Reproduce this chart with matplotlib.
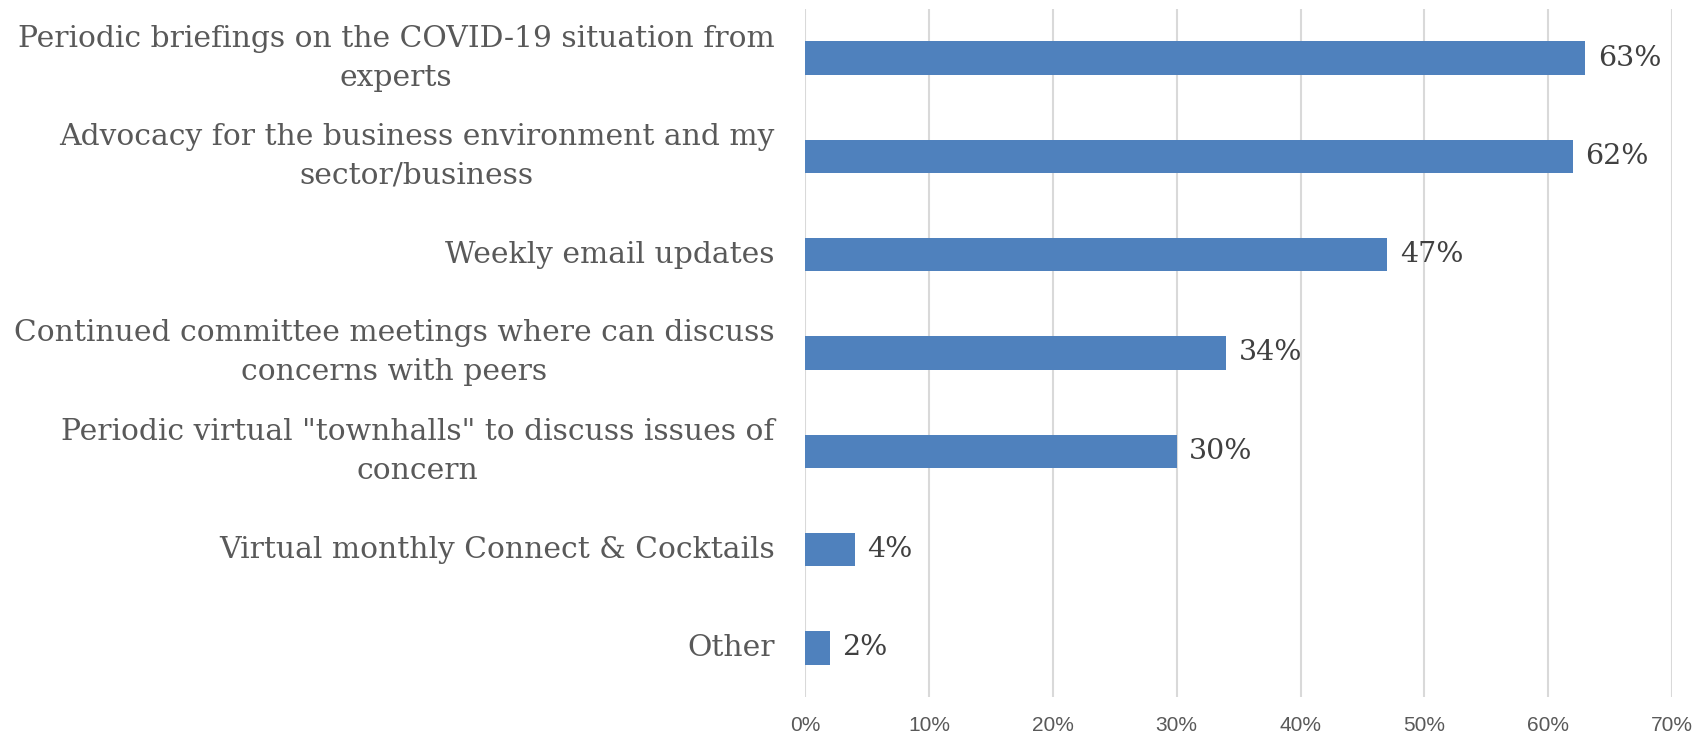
import matplotlib
matplotlib.use("Agg")
import matplotlib.pyplot as plt
from matplotlib.ticker import FuncFormatter, MultipleLocator

categories = [
    "Periodic briefings on the COVID-19 situation from\nexperts",
    "Advocacy for the business environment and my\nsector/business",
    "Weekly email updates",
    "Continued committee meetings where can discuss\nconcerns with peers",
    "Periodic virtual \"townhalls\" to discuss issues of\nconcern",
    "Virtual monthly Connect & Cocktails",
    "Other",
]
values = [63, 62, 47, 34, 30, 4, 2]
value_labels = ["63%", "62%", "47%", "34%", "30%", "4%", "2%"]

fig = plt.figure(figsize=(17.01, 7.43), dpi=100)
ax = fig.add_axes([0.4733, 0.0619, 0.983 - 0.4733, 0.988 - 0.0619])

y = list(range(len(categories)))
ax.barh(y, values, height=0.34, color="#4F81BD", zorder=3)
ax.set_ylim(len(categories) - 0.5, -0.5)
ax.set_xlim(0, 70)
ax.xaxis.set_major_locator(MultipleLocator(10))
ax.xaxis.set_major_formatter(FuncFormatter(lambda v, p: f"{int(round(v))}%"))
ax.grid(axis="x", color="#D9D9D9", linewidth=1.5, zorder=0)
ax.set_axisbelow(True)
for s in ax.spines.values():
    s.set_visible(False)

ax.set_yticks(y)
ax.set_yticklabels(categories, fontfamily="DejaVu Serif", fontsize=21.4,
                   color="#595959", multialignment="center", linespacing=1.5,
                   va="center")
ax.tick_params(axis="y", length=0, pad=22)
ax.tick_params(axis="x", length=0, pad=14, labelsize=15, labelcolor="#595959")
for lab in ax.get_xticklabels():
    lab.set_fontfamily("Liberation Sans")

for yi, v, t in zip(y, values, value_labels):
    ax.annotate(t, xy=(v, yi), xytext=(9, 0), textcoords="offset points",
                va="center", ha="left", fontfamily="DejaVu Serif",
                fontsize=20.5, color="#404040")

fig.savefig("out.png", dpi=100)
